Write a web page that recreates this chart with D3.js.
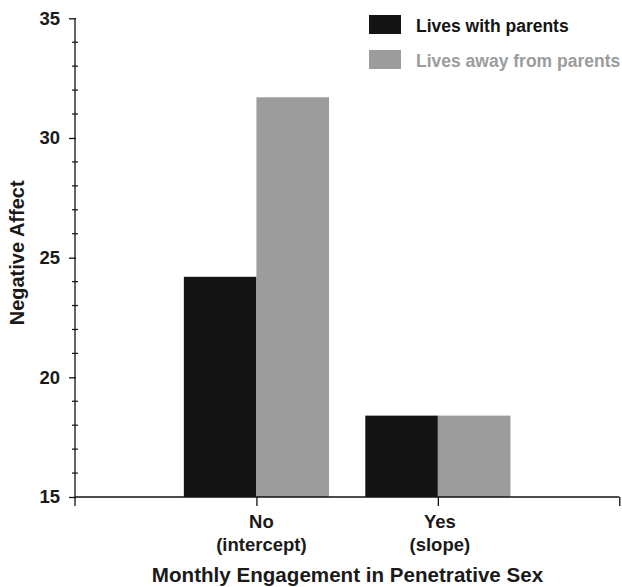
<!DOCTYPE html>
<html>
<head>
<meta charset="utf-8">
<script src="https://cdn.jsdelivr.net/npm/d3@7"></script>
<style>
  html, body { margin: 0; padding: 0; background: #fff; }
  svg { display: block; font-family: "Liberation Sans", Arial, Helvetica, sans-serif; font-weight: bold; }
</style>
</head>
<body>
<svg id="chart" width="622" height="587"></svg>
<script>
// ---- data ----
const categories = ["No", "Yes"];
const categorySubLabels = ["(intercept)", "(slope)"];
const seriesNames = ["Lives with parents", "Lives away from parents"];
const livesWithParents = [24.2, 18.4];
const livesAwayFromParents = [31.7, 18.4];
const yTicks = [15, 20, 25, 30, 35];
const yMinorTicks = [16,17,18,19,21,22,23,24,26,27,28,29,31,32,33,34];
const xTitle = "Monthly Engagement in Penetrative Sex";
const yTitle = "Negative Affect";

// ---- layout ----
const svg = d3.select("#chart");
const colors = ["#141414", "#9b9c9b"];
const textColors = ["#141414", "#9b9c9b"];
const x0 = 75, x1 = 619.3, yTop = 18.3, yBot = 497;

const x = d3.scaleLinear().domain([0, 3]).range([x0, x1]);
const y = d3.scaleLinear().domain([15, 35]).range([yBot, yTop]);
const barW = x(0.4) - x(0);

const series = [livesWithParents, livesAwayFromParents];

// bars
series.forEach((vals, s) => {
  svg.append("g").selectAll("rect")
    .data(vals)
    .join("rect")
    .attr("x", (d, i) => s === 0 ? x(i + 1) - barW : x(i + 1))
    .attr("y", d => y(d))
    .attr("width", barW)
    .attr("height", d => y(15) - y(d))
    .attr("fill", colors[s]);
});

// y axis
const yAxis = svg.append("g").attr("transform", `translate(${x0},0)`)
  .call(d3.axisLeft(y).tickValues(yTicks).tickSize(6).tickSizeOuter(0).tickPadding(9));
yAxis.select(".domain").remove();
yAxis.selectAll(".tick line").attr("stroke", "#111").attr("stroke-width", 1.3).attr("x2", -6).attr("x1", 1);
yAxis.selectAll(".tick text").attr("font-size", 18.5).attr("fill", "#1a1a1a")
  .attr("font-family", "'Liberation Sans', Arial, sans-serif").attr("font-weight", "bold");
// y axis line (extends a little below the x axis)
svg.append("line").attr("x1", x0).attr("x2", x0).attr("y1", yTop).attr("y2", yBot + 9)
  .attr("stroke", "#111").attr("stroke-width", 1.3);
// minor ticks
svg.append("g").selectAll("line").data(yMinorTicks).join("line")
  .attr("x1", x0 - 3).attr("x2", x0 + 3)
  .attr("y1", d => y(d)).attr("y2", d => y(d))
  .attr("stroke", "#111").attr("stroke-width", 1.2);

// x axis
const xAxis = svg.append("g").attr("transform", `translate(0,${yBot})`)
  .call(d3.axisBottom(x).tickValues([1, 2, 3]).tickSize(9).tickSizeOuter(0).tickFormat(""));
xAxis.select(".domain").attr("stroke", "#111").attr("stroke-width", 1.3)
  .attr("d", `M${x0},0H${x1}`);
xAxis.selectAll(".tick line").attr("stroke", "#111").attr("stroke-width", 1.3);

// category labels
const catG = svg.append("g");
categories.forEach((c, i) => {
  const cx = x(i + 1) + (i === 0 ? 5 : 2);
  const t = catG.append("text")
    .attr("text-anchor", "middle")
    .attr("font-size", 18.5)
    .attr("fill", "#1a1a1a");
  t.append("tspan").attr("x", cx).attr("y", 528).text(c);
  t.append("tspan").attr("x", cx).attr("y", 551).text(categorySubLabels[i]);
});

// axis titles
svg.append("text")
  .attr("x", 347.5)
  .attr("y", 582)
  .attr("text-anchor", "middle")
  .attr("font-size", 20.6)
  .attr("fill", "#1a1a1a")
  .text(xTitle);

svg.append("text")
  .attr("transform", `translate(24,${y(25.2)}) rotate(-90)`)
  .attr("text-anchor", "middle")
  .attr("font-size", 20)
  .attr("fill", "#1a1a1a")
  .text(yTitle);

// legend
const legend = svg.append("g");
seriesNames.forEach((name, s) => {
  const ly = 15 + s * 35;
  legend.append("rect").attr("x", 369).attr("y", ly).attr("width", 32).attr("height", 19)
    .attr("fill", colors[s]);
  legend.append("text").attr("x", 416).attr("y", ly + 16.5)
    .attr("font-size", 17.5).attr("fill", textColors[s]).text(name);
});
</script>
</body>
</html>
